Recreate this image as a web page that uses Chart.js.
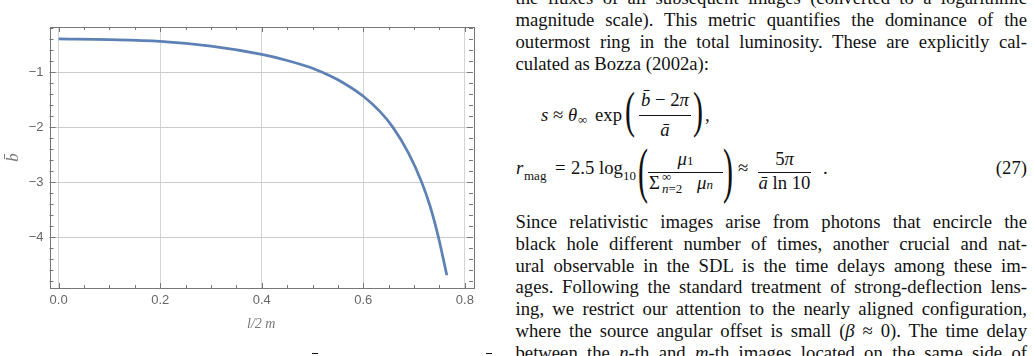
<!DOCTYPE html>
<html>
<head>
<meta charset="utf-8">
<script src="https://cdn.jsdelivr.net/npm/chart.js@4.4.0/dist/chart.umd.min.js"></script>
<style>
  html, body { margin: 0; padding: 0; background: #fff; }
  #page { position: relative; width: 1034px; height: 356px; overflow: hidden; background: #fff; }
  #plot { position: absolute; left: 0; top: 0; }
  .col { position: absolute; left: 515.5px; width: 511.5px; font-family: "Liberation Serif", serif; font-size: 18.7px; color: #111; }
  .col span { display: block; white-space: nowrap; text-align: justify; text-align-last: justify; }
  .col span.last { text-align: left; text-align-last: left; }
  .m { position: absolute; font-family: "Liberation Serif", serif; font-size: 18.7px; line-height: 18.7px; color: #111; white-space: nowrap; }
  .s { font-size: 13px; }
  .p { position: absolute; font-family: "Liberation Serif", serif; font-size: 30px; line-height: 30px; color: #111; transform-origin: 0 0; }
  .bar { position: absolute; height: 1px; background: #111; }
  i { font-style: italic; }
</style>
</head>
<body>
<div id="page">
  <canvas id="plot" width="490" height="356"></canvas>

  <div class="col" style="top:-13.2px; line-height:22px;">
    <span>the fluxes of all subsequent images (converted to a logarithmic</span>
    <span>magnitude scale). This metric quantifies the dominance of the</span>
    <span>outermost ring in the total luminosity. These are explicitly cal-</span>
    <span class="last">culated as Bozza (2002a):</span>
  </div>

  <!-- s = theta exp((b - 2pi)/a) -->
  <div class="m" style="left:541px; top:106px;"><i>s</i></div>
  <div class="m" style="left:553px; top:106px;">≈</div>
  <div class="m" style="left:568px; top:106px;"><i>θ</i></div>
  <div class="m s" style="left:578px; top:113px; line-height:13px;">∞</div>
  <div class="m" style="left:595px; top:106px;">exp</div>
  <div class="p" style="left:625px; top:85.4px; transform:scaleY(1.69);">(</div>
  <div class="m" style="left:639px; top:91px; width:52px; text-align:center;"><i>b̄</i> − 2<i>π</i></div>
  <div class="bar" style="left:639px; top:115px; width:52px;"></div>
  <div class="m" style="left:639px; top:121px; width:52px; text-align:center;"><i>ā</i></div>
  <div class="p" style="left:693px; top:85.4px; transform:scaleY(1.69);">)</div>
  <div class="m" style="left:705px; top:106px;">,</div>

  <!-- r_mag -->
  <div class="m" style="left:516px; top:159.3px;"><i>r</i></div>
  <div class="m s" style="left:524px; top:169px; line-height:13px;">mag</div>
  <div class="m" style="left:555px; top:159.3px;">=</div>
  <div class="m" style="left:571px; top:159.3px;">2.5 log</div>
  <div class="m s" style="left:623px; top:169px; line-height:13px;">10</div>
  <div class="p" style="left:638px; top:139.6px; transform:scaleY(2.02);">(</div>
  <div class="m" style="left:648px; top:149.5px; width:75px; text-align:center;"><i>μ</i><span class="s">1</span></div>
  <div class="bar" style="left:648px; top:172px; width:75px;"></div>
  <div class="m" style="left:649px; top:173.5px;">Σ</div>
  <div class="m s" style="left:662px; top:170px; line-height:13px;">∞</div>
  <div class="m s" style="left:662px; top:182px; line-height:13px;"><i>n</i>=2</div>
  <div class="m" style="left:697px; top:173.5px;"><i>μ</i><span class="s"><i>n</i></span></div>
  <div class="p" style="left:723px; top:139.6px; transform:scaleY(2.02);">)</div>
  <div class="m" style="left:738px; top:159.3px;">≈</div>
  <div class="m" style="left:758px; top:149.5px; width:53px; text-align:center;">5<i>π</i></div>
  <div class="bar" style="left:758px; top:172px; width:53px;"></div>
  <div class="m" style="left:758px; top:173.5px; width:53px; text-align:center;"><i>ā</i> ln 10</div>
  <div class="m" style="left:823px; top:159.3px;">.</div>
  <div class="m" style="left:985px; top:159.3px; width:42px; text-align:right;">(27)</div>

  <div class="col" style="top:211.1px; line-height:21.78px;">
    <span>Since relativistic images arise from photons that encircle the</span>
    <span>black hole different number of times, another crucial and nat-</span>
    <span>ural observable in the SDL is the time delays among these im-</span>
    <span>ages. Following the standard treatment of strong-deflection lens-</span>
    <span>ing, we restrict our attention to the nearly aligned configuration,</span>
    <span>where the source angular offset is small (<i>β</i> ≈ 0). The time delay</span>
    <span>between the <i>n</i>-th and <i>m</i>-th images located on the same side of</span>
  </div>

  <div class="bar" style="left:312px; top:352.5px; width:6px; height:1.5px;"></div>
  <div class="bar" style="left:486px; top:352.5px; width:6px; height:1.5px;"></div>
</div>

<script>
// l/2m values and the curve b-bar
const xValues = [0, 0.1, 0.2, 0.3, 0.4, 0.45, 0.5, 0.518, 0.55, 0.6, 0.633, 0.658, 0.689, 0.715, 0.732, 0.748, 0.7645];
const bValues = [-0.40, -0.412, -0.443, -0.53, -0.68, -0.79, -0.93, -1.0, -1.14, -1.44, -1.72, -2.0, -2.47, -3.0, -3.45, -4.0, -4.69];

// tick labels
const xTicks = [0, 0.2, 0.4, 0.6, 0.8];
const yTicks = [-4, -3, -2, -1];

// frame with inward ticks, Mathematica style
const frameTicks = {
    id: "frameTicks",
    afterDraw(chart) {
        const { ctx, chartArea: a, scales } = chart;
        const xs = scales.x, ys = scales.y;
        ctx.save();
        ctx.strokeStyle = "#777";
        ctx.lineWidth = 1;
        ctx.beginPath();
        for (let i = 0; i <= 16; i++) {
            const v = i * 0.05;
            const px = Math.round(xs.getPixelForValue(v)) + 0.5;
            const len = (i % 4 === 0) ? 5 : 3;
            ctx.moveTo(px, a.bottom); ctx.lineTo(px, a.bottom - len);
            ctx.moveTo(px, a.top); ctx.lineTo(px, a.top + len);
        }
        for (let i = 1; i <= 24; i++) {
            const v = -i * 0.2;
            if (v < ys.min) break;
            const py = Math.round(ys.getPixelForValue(v)) + 0.5;
            const len = (i % 5 === 0) ? 6 : 4;
            ctx.moveTo(a.left, py); ctx.lineTo(a.left + len, py);
            ctx.moveTo(a.right, py); ctx.lineTo(a.right - len, py);
        }
        ctx.stroke();
        ctx.strokeRect(Math.round(a.left) + 0.5, Math.round(a.top) + 0.5,
            Math.round(a.right - a.left), Math.round(a.bottom - a.top));
        ctx.restore();
    }
};

new Chart(document.getElementById("plot"), {
    type: "line",
    data: {
        datasets: [{
            data: xValues.map((x, i) => ({ x: x, y: bValues[i] })),
            borderColor: "#5e81b5",
            borderWidth: 2.7,
            pointRadius: 0,
            cubicInterpolationMode: "monotone",
            fill: false
        }]
    },
    options: {
        responsive: false,
        animation: false,
        layout: { padding: { top: 27, right: 17, left: 0, bottom: 0 } },
        plugins: { legend: { display: false }, tooltip: { enabled: false } },
        scales: {
            x: {
                type: "linear",
                min: -0.018,
                max: 0.816,
                afterBuildTicks: s => { s.ticks = xTicks.map(v => ({ value: v })); },
                afterFit: s => { s.height = 68; },
                grid: { color: "#d4d4d4", drawTicks: false },
                border: { display: false },
                ticks: {
                    padding: 5,
                    color: "#666",
                    font: { family: "Liberation Sans", size: 13 },
                    callback: v => Number(v).toFixed(1)
                },
                title: {
                    display: true,
                    text: "l/2 m",
                    color: "#777",
                    font: { family: "Liberation Serif", style: "italic", size: 14 },
                    padding: { top: 0, bottom: 23 }
                }
            },
            y: {
                type: "linear",
                min: -4.92,
                max: -0.183,
                afterBuildTicks: s => { s.ticks = yTicks.map(v => ({ value: v })); },
                afterFit: s => { s.width = 49.5; },
                grid: { color: "#cccccc", drawTicks: false },
                border: { display: false },
                ticks: {
                    padding: 6,
                    color: "#666",
                    font: { family: "Liberation Sans", size: 13 },
                    callback: v => "\u2212" + Math.abs(v)
                },
                title: {
                    display: true,
                    text: "b\u0304",
                    color: "#777",
                    font: { family: "Liberation Serif", style: "italic", size: 17 },
                    padding: { top: 3, bottom: 0 }
                }
            }
        }
    },
    plugins: [frameTicks]
});
</script>
</body>
</html>
